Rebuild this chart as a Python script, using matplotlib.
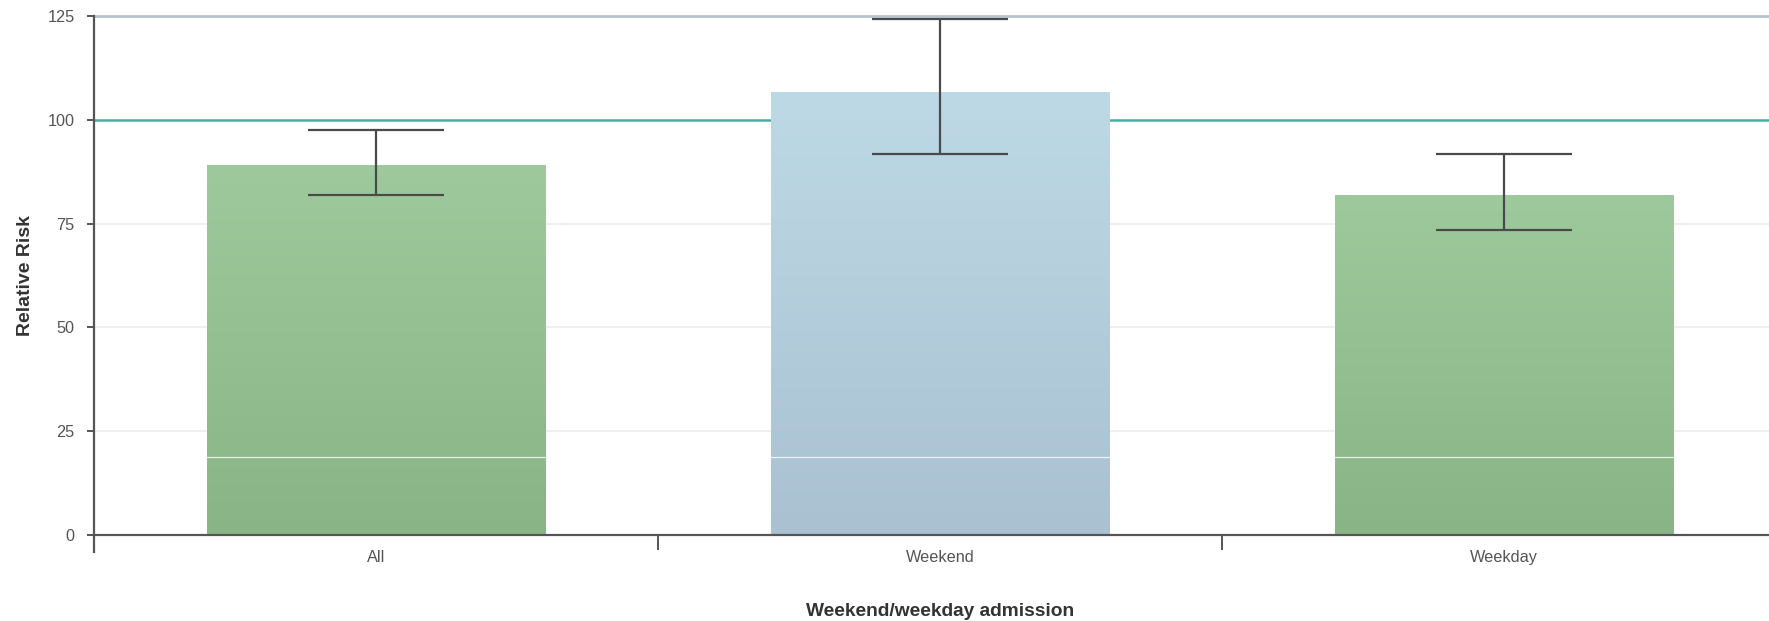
import numpy as np
import matplotlib
matplotlib.use("Agg")
import matplotlib.pyplot as plt
from matplotlib.colors import LinearSegmentedColormap

plt.rcParams['font.family'] = ['Liberation Sans', 'DejaVu Sans']

categories = ["All", "Weekend", "Weekday"]
rr = [89.2, 106.6, 81.8]
ci_low = [82.0, 91.8, 73.5]
ci_high = [97.6, 124.3, 91.8]
bar_top_colors = ["#9ec99c", "#bed9e6", "#9ec99c"]
bar_bottom_colors = ["#89b586", "#a9c1d1", "#89b586"]
yticks = [0, 25, 50, 75, 100, 125]

fig = plt.figure(figsize=(17.69, 6.21), dpi=100)
ax = fig.add_axes([94 / 1769, 86 / 621, 1692 / 1769, 519 / 621])

x = np.arange(len(categories))

# grid lines
for t in [25, 50, 75]:
    ax.axhline(t, color="#ececec", lw=1.2, zorder=0)
ax.axhline(100, color="#4aaca5", lw=1.8, zorder=0)
ax.axhline(125, color="#b5c3cf", lw=2.0, zorder=0, clip_on=False)

bars = ax.bar(x, rr, width=0.6, color="none", edgecolor="none", zorder=2)
grad = np.linspace(0, 1, 256).reshape(-1, 1)
for b, ctop, cbot in zip(bars, bar_top_colors, bar_bottom_colors):
    cmap = LinearSegmentedColormap.from_list("g", [cbot, ctop])
    x0, y0 = b.get_x(), b.get_y()
    im = ax.imshow(grad, cmap=cmap, aspect="auto", origin="lower",
                   extent=(x0, x0 + b.get_width(), y0, y0 + b.get_height()), zorder=2)
    im.set_clip_path(b)

# faint white line across the bars
ax.axhline(18.8, color="white", lw=0.9, alpha=0.8, zorder=3)

yerr = [np.array(rr) - np.array(ci_low), np.array(ci_high) - np.array(rr)]
ax.errorbar(x, rr, yerr=yerr, fmt="none", ecolor="#4a4a4a", elinewidth=1.6,
            capsize=49, capthick=1.6, zorder=4)

ax.set_xlim(-0.5, len(categories) - 0.5)
ax.set_ylim(0, 125)

for s in ["top", "right"]:
    ax.spines[s].set_visible(False)
for s in ["left", "bottom"]:
    ax.spines[s].set_color("#555555")
    ax.spines[s].set_linewidth(1.6)
ax.spines["left"].set_bounds(-4, 125)
ax.spines["left"].set_zorder(5)

ax.set_yticks(yticks)
ax.tick_params(axis="y", length=5, width=1.4, color="#555555", pad=9,
               labelsize=11.7, labelcolor="#555555")
ax.set_xticks(x)
ax.set_xticklabels(categories)
ax.set_xticks(np.arange(0.5, len(categories) - 0.5), minor=True)
ax.tick_params(axis="x", which="major", length=0, pad=11, labelsize=11.7,
               labelcolor="#555555")
ax.tick_params(axis="x", which="minor", length=11, width=1.4, color="#555555")

ax.set_ylabel("Relative Risk", fontsize=14, fontweight="bold", color="#333333")
ax.yaxis.label.set_va("center")
ax.yaxis.set_label_coords((26 - 94) / 1692, 0.5)
ax.set_xlabel("Weekend/weekday admission", fontsize=13.8, fontweight="bold",
              color="#333333")
ax.xaxis.label.set_va("center")
ax.xaxis.set_label_coords(0.5, -(612 - 535) / 519)

fig.savefig("out.png", dpi=100)
